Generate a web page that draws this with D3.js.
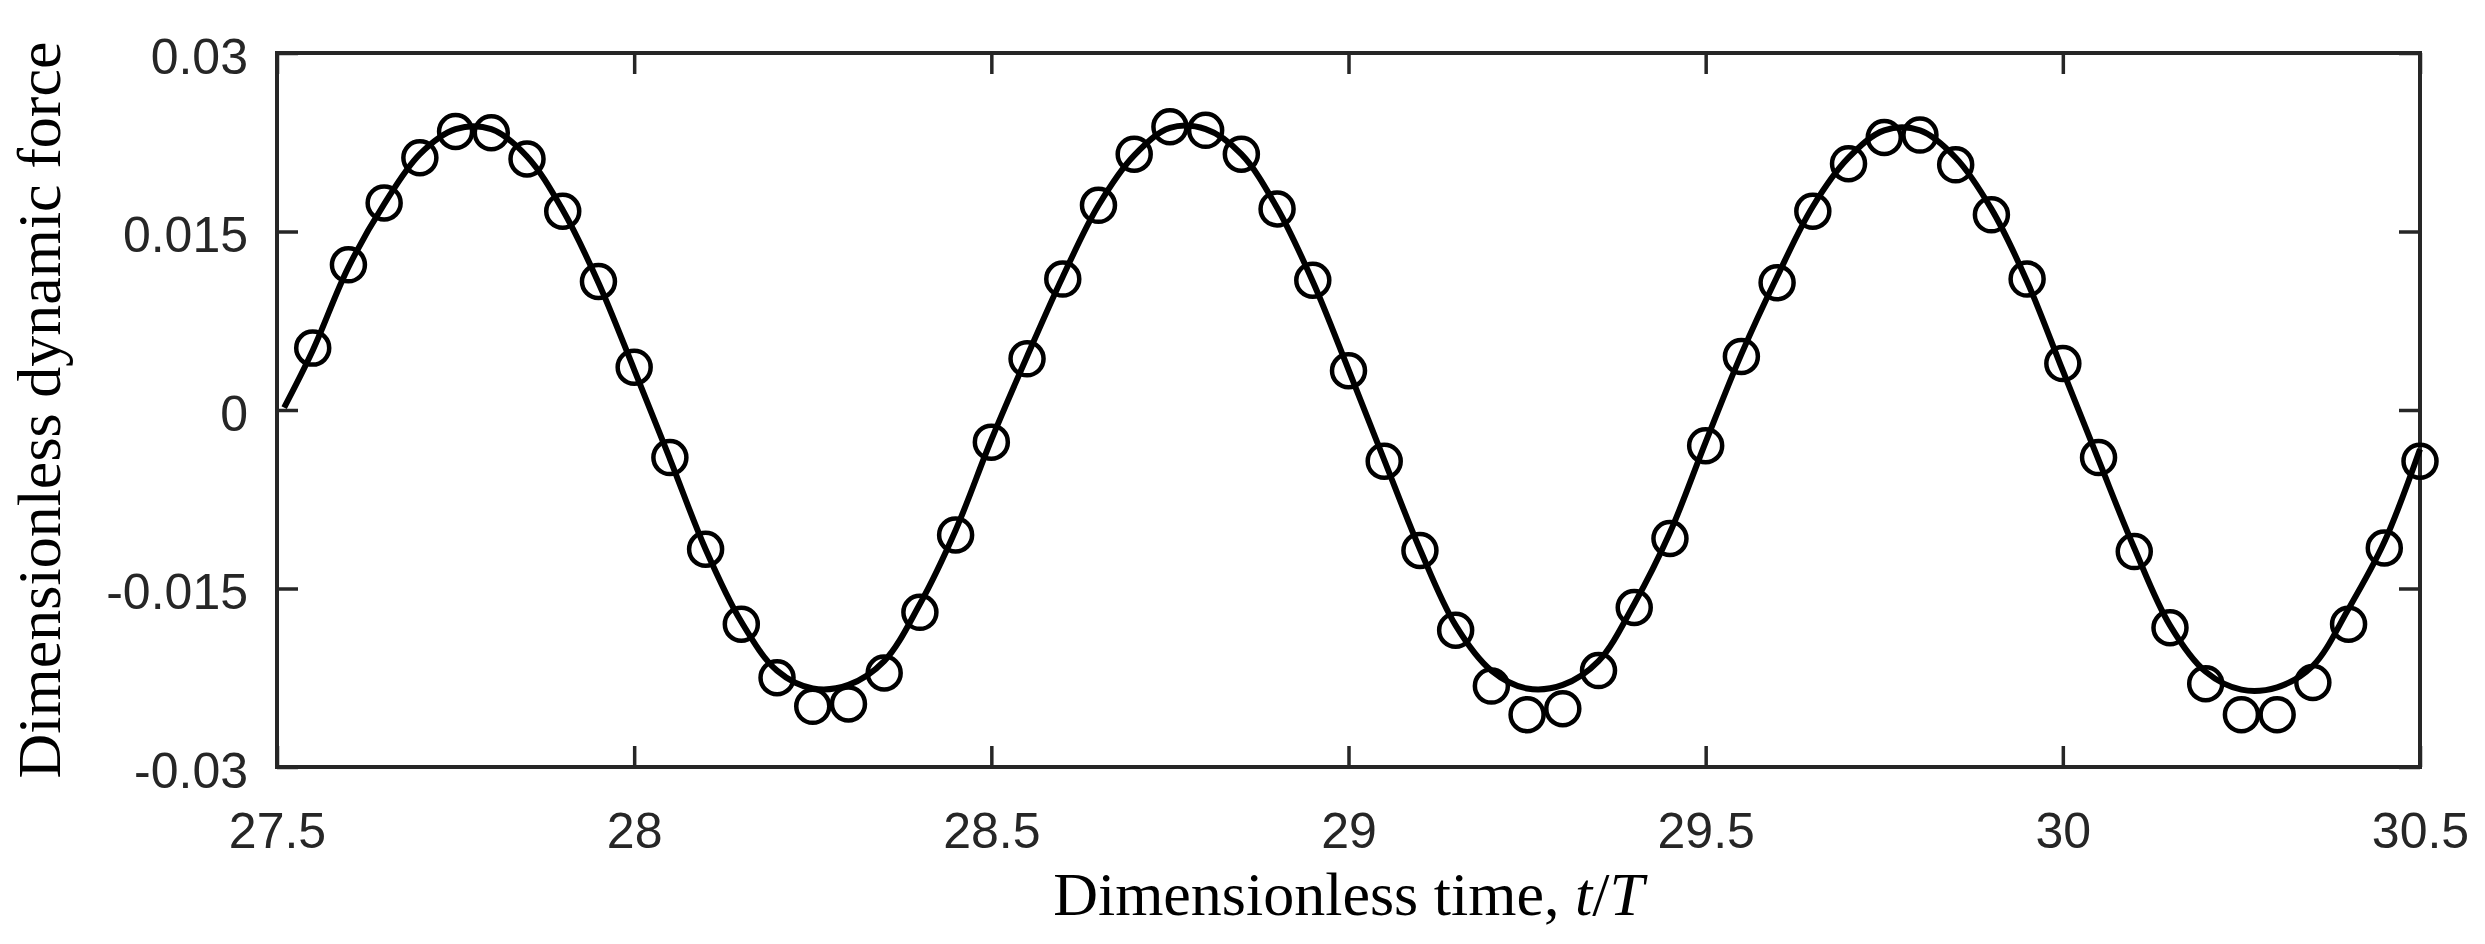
<!DOCTYPE html>
<html>
<head>
<meta charset="utf-8">
<script src="https://cdn.jsdelivr.net/npm/d3@7"></script>
<style>
  html, body { margin: 0; padding: 0; background: #fff; }
  svg { display: block; }
</style>
</head>
<body>
<svg id="chart" width="2485" height="944"></svg>
<script>
// ---------------- data ----------------
const xTicks = [27.5, 28, 28.5, 29, 29.5, 30, 30.5];
const xTickLabels = ["27.5", "28", "28.5", "29", "29.5", "30", "30.5"];
const yTicks = [-0.03, -0.015, 0, 0.015, 0.03];
const yTickLabels = ["-0.03", "-0.015", "0", "0.015", "0.03"];

// circles (sampled data)
const markerT = [
  27.55, 27.60, 27.65, 27.70, 27.75, 27.80, 27.85, 27.90, 27.95, 28.00,
  28.05, 28.10, 28.15, 28.20, 28.25, 28.30, 28.35, 28.40, 28.45, 28.50,
  28.55, 28.60, 28.65, 28.70, 28.75, 28.80, 28.85, 28.90, 28.95, 29.00,
  29.05, 29.10, 29.15, 29.20, 29.25, 29.30, 29.35, 29.40, 29.45, 29.50,
  29.55, 29.60, 29.65, 29.70, 29.75, 29.80, 29.85, 29.90, 29.95, 30.00,
  30.05, 30.10, 30.15, 30.20, 30.25, 30.30, 30.35, 30.40, 30.45, 30.50
];
const markerF = [
  0.0052, 0.0122, 0.0174, 0.0212, 0.0234, 0.0233, 0.0211, 0.0167, 0.0108, 0.0036,
  -0.0040, -0.0117, -0.0180, -0.0225, -0.0249, -0.0247, -0.0221, -0.0170, -0.0105, -0.0027,
  0.0043, 0.0110, 0.0172, 0.0215, 0.0238, 0.0235, 0.0215, 0.0169, 0.0109, 0.0033,
  -0.0043, -0.0118, -0.0185, -0.0232, -0.0256, -0.0251, -0.0219, -0.0166, -0.0108, -0.0030,
  0.0045, 0.0107, 0.0167, 0.0207, 0.0229, 0.0231, 0.0206, 0.0164, 0.0110, 0.0039,
  -0.0040, -0.0119, -0.0183, -0.0230, -0.0256, -0.0256, -0.0229, -0.0180, -0.0116, -0.0043
];

// continuous solution (line)
const lineT = [
  27.51, 27.55, 27.60, 27.65, 27.70, 27.75, 27.80, 27.85, 27.90, 27.95, 28.00,
  28.05, 28.10, 28.15, 28.20, 28.25, 28.30, 28.35, 28.40, 28.45, 28.50,
  28.55, 28.60, 28.65, 28.70, 28.75, 28.80, 28.85, 28.90, 28.95, 29.00,
  29.05, 29.10, 29.15, 29.20, 29.25, 29.30, 29.35, 29.40, 29.45, 29.50,
  29.55, 29.60, 29.65, 29.70, 29.75, 29.80, 29.85, 29.90, 29.95, 30.00,
  30.05, 30.10, 30.15, 30.20, 30.25, 30.30, 30.35, 30.40, 30.45, 30.50
];
const lineF = [
  0.0002, 0.0050, 0.0120, 0.0173, 0.0215, 0.0236, 0.0236, 0.0213, 0.0168, 0.0107, 0.0034,
  -0.0041, -0.0117, -0.0178, -0.0219, -0.0234, -0.0231, -0.0211, -0.0163, -0.0101, -0.0025,
  0.0045, 0.0112, 0.0172, 0.0214, 0.0237, 0.0236, 0.0215, 0.0170, 0.0108, 0.0034,
  -0.0042, -0.0117, -0.0181, -0.0219, -0.0234, -0.0231, -0.0211, -0.0163, -0.0103, -0.0027,
  0.0047, 0.0112, 0.0171, 0.0212, 0.0235, 0.0235, 0.0212, 0.0169, 0.0108, 0.0033,
  -0.0042, -0.0116, -0.0181, -0.0220, -0.0235, -0.0233, -0.0215, -0.0167, -0.0111, -0.0033
];

// ---------------- layout ----------------
const W = 2485, H = 944;
const L = 277, R = 2420, T = 53, B = 767;
const axisColor = "#262626";

const svg = d3.select("#chart");
svg.append("rect").attr("width", W).attr("height", H).attr("fill", "#fff");

const x = d3.scaleLinear().domain([27.5, 30.5]).range([L, R]);
const y = d3.scaleLinear().domain([-0.03, 0.03]).range([B, T]);

const tickFont = "'Liberation Sans', Arial, Helvetica, sans-serif";
const serif = "'Liberation Serif', 'Times New Roman', serif";

function styleAxis(g) {
  g.select(".domain").remove();
  g.selectAll(".tick line").attr("stroke", axisColor).attr("stroke-width", 3.5);
  g.selectAll(".tick text")
    .attr("fill", axisColor)
    .style("font-family", tickFont)
    .style("font-size", "50px");
}

// bottom axis
svg.append("g")
  .attr("transform", `translate(0,${B})`)
  .call(d3.axisBottom(x).tickValues(xTicks)
    .tickFormat((d, i) => xTickLabels[i])
    .tickSizeInner(-21).tickSizeOuter(0).tickPadding(45))
  .call(styleAxis);

// top axis (mirror ticks)
svg.append("g")
  .attr("transform", `translate(0,${T})`)
  .call(d3.axisTop(x).tickValues(xTicks).tickFormat("")
    .tickSizeInner(-21).tickSizeOuter(0))
  .call(styleAxis);

// left axis
const gl = svg.append("g")
  .attr("transform", `translate(${L},0)`)
  .call(d3.axisLeft(y).tickValues(yTicks)
    .tickFormat((d, i) => yTickLabels[i])
    .tickSizeInner(-21).tickSizeOuter(0).tickPadding(29))
  .call(styleAxis);
gl.selectAll(".tick text").attr("dy", "0.4em");

// right axis (mirror ticks)
svg.append("g")
  .attr("transform", `translate(${R},0)`)
  .call(d3.axisRight(y).tickValues(yTicks).tickFormat("")
    .tickSizeInner(-21).tickSizeOuter(0))
  .call(styleAxis);

// frame
svg.append("rect")
  .attr("x", L).attr("y", T)
  .attr("width", R - L).attr("height", B - T)
  .attr("fill", "none")
  .attr("stroke", axisColor)
  .attr("stroke-width", 4);

// line
const lineData = lineT.map((t, i) => [t, lineF[i]]);
svg.append("path")
  .datum(lineData)
  .attr("fill", "none")
  .attr("stroke", "#000")
  .attr("stroke-width", 6)
  .attr("stroke-linejoin", "round")
  .attr("d", d3.line().x(d => x(d[0])).y(d => y(d[1])).curve(d3.curveCatmullRom.alpha(0.5)));

// markers
const markerData = markerT.map((t, i) => [t, markerF[i]]);
svg.append("g").selectAll("circle")
  .data(markerData)
  .join("circle")
  .attr("cx", d => x(d[0]))
  .attr("cy", d => y(d[1]))
  .attr("r", 16.5)
  .attr("fill", "none")
  .attr("stroke", "#000")
  .attr("stroke-width", 4.5);

// axis titles
const xt = svg.append("text")
  .attr("x", (L + R) / 2)
  .attr("y", 915)
  .attr("text-anchor", "middle")
  .attr("fill", "#000")
  .style("font-family", serif)
  .style("font-size", "62px");
xt.append("tspan").text("Dimensionless time, ");
xt.append("tspan").style("font-style", "italic").text("t");
xt.append("tspan").text("/");
xt.append("tspan").style("font-style", "italic").text("T");

svg.append("text")
  .attr("transform", `translate(60,${(T + B) / 2}) rotate(-90)`)
  .attr("text-anchor", "middle")
  .attr("fill", "#000")
  .style("font-family", serif)
  .style("font-size", "62px")
  .text("Dimensionless dynamic force");
</script>
</body>
</html>
